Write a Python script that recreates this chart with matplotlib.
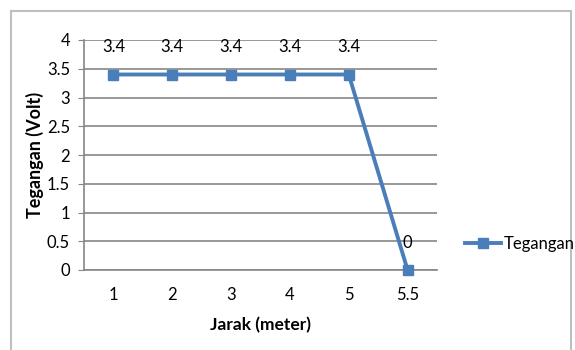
import matplotlib.pyplot as plt
from matplotlib.patches import Rectangle

plt.rcParams['font.family'] = ['Lato', 'DejaVu Sans']

jarak = ['1', '2', '3', '4', '5', '5.5']
tegangan = [3.4, 3.4, 3.4, 3.4, 3.4, 0]
yticks = [0, 0.5, 1, 1.5, 2, 2.5, 3, 3.5, 4]

W, H = 575, 350
fig = plt.figure(figsize=(W / 100, H / 100), dpi=100)
ax = fig.add_axes([84 / W, 1 - 270 / H, (437 - 84) / W, (270 - 40) / H])

blue = '#4A7EBB'
grid = '#868686'
x = list(range(len(jarak)))
ax.plot(x, tegangan, color=blue, lw=2.8, marker='s', ms=7.5, label='Tegangan', clip_on=False, zorder=3)
for xi, v in zip(x, tegangan):
    ax.annotate(f'{v:g}', (xi, v), xytext=(0, 14), textcoords='offset points',
                ha='center', va='bottom', fontsize=12)

ax.set_xlim(-0.5, len(jarak) - 0.5)
ax.set_ylim(0, 4)
ax.set_yticks(yticks)
ax.set_yticklabels([f'{t:g}' for t in yticks], fontsize=12)
ax.set_xticks(x)
ax.set_xticklabels(jarak, fontsize=12)
ax.tick_params(axis='x', length=0, pad=12)
ax.tick_params(axis='y', length=4, color=grid, pad=6)
ax.yaxis.grid(True, color=grid, lw=1.2)
ax.set_axisbelow(True)
for s in ['top', 'right']:
    ax.spines[s].set_visible(False)
for s in ['left', 'bottom']:
    ax.spines[s].set_color(grid)
    ax.spines[s].set_linewidth(1.2)

ax.set_ylabel('Tegangan (Volt)', fontsize=13, fontweight='bold', va='center')
ax.yaxis.set_label_coords((35 - 84) / 353, 0.5)
ax.set_xlabel('Jarak (meter)', fontsize=12.5, fontweight='bold', labelpad=10)

fig.legend(loc='center left', bbox_to_anchor=(458 / W, 1 - 244 / H), frameon=False,
           fontsize=12, handlelength=2.2, handletextpad=0.15, borderaxespad=0)

fig.patches.append(Rectangle((11 / W, -0.01), (571 - 11) / W, 1 - 11 / H + 0.01,
                             transform=fig.transFigure, fill=False, ec='#BFBFBF', lw=1.5))

fig.savefig('out.png', dpi=100)
